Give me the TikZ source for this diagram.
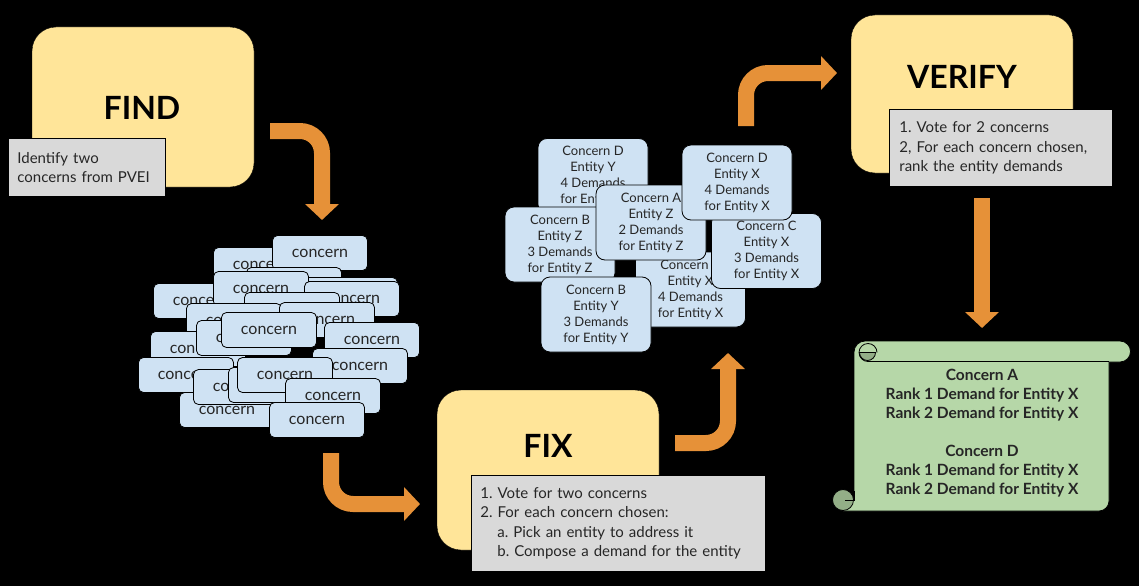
\documentclass[tikz,border=0pt]{standalone}
\usepackage{fontspec}
\setmainfont{Lato}
\usepackage{xcolor}
\usetikzlibrary{arrows.meta}
\definecolor{stagefill}{HTML}{FFE599}
\definecolor{notefill}{HTML}{D9D9D9}
\definecolor{chipfill}{HTML}{CFE2F3}
\definecolor{scrollfill}{HTML}{B6D7A8}
\definecolor{curlfill}{HTML}{93AE87}
\definecolor{flowcol}{HTML}{E69138}
\definecolor{ink}{HTML}{262626}
\frenchspacing

\begin{document}
\begin{tikzpicture}[x=1pt,y=-1pt,
  stage/.style={draw=black, fill=stagefill, rounded corners=24pt, minimum width=222pt, minimum height=160pt, inner sep=0pt},
  title/.style={font=\fontsize{32}{36}\selectfont\bfseries, text=black},
  note/.style={draw=black, line width=0.8pt, fill=notefill, align=left, text=ink, font=\fontsize{15}{19.5}\selectfont, inner xsep=9pt, inner ysep=0pt, anchor=north west},
  chip/.style={draw=black, line width=0.8pt, fill=chipfill, rounded corners=5pt, minimum width=95pt, minimum height=35pt, inner sep=0pt, text=ink, font=\fontsize{16}{18}\selectfont},
  card/.style={draw=black, line width=0.8pt, fill=chipfill, rounded corners=9pt, minimum width=110pt, minimum height=75pt, inner sep=0pt, align=center, text=ink, font=\fontsize{13}{16}\selectfont},
  flow/.style={draw=flowcol, line width=16pt, rounded corners=22pt, -{Triangle[width=33pt,length=16pt]}},
  scrollpart/.style={draw=black, line width=0.8pt, fill=scrollfill},
  curl/.style={draw=black, line width=0.8pt, fill=curlfill}]

\useasboundingbox (0,0) rectangle (1139,586);
\fill [black] (0,0) rectangle (1139,586);

% stages
\node [stage] (find) at (143,107) {};
\node [title] (findtitle) at (142,108) {FIND};
\node [note, minimum width=157pt, minimum height=58pt, text width=139pt] (findnote) at (8,138) {Identify two\\concerns from PVEI};

\node [stage] (fix) at (548,470) {};
\node [title] (fixtitle) at (548,446) {FIX};
\node [note, minimum width=294pt, minimum height=96pt, text width=276pt] (fixnote) at (471,475) {1. Vote for two concerns\\2. For each concern chosen:\\\hspace*{17pt}a. Pick an entity to address it\\\hspace*{17pt}b. Compose a demand for the entity};

\node [stage, minimum height=158pt] (verify) at (962,94) {};
\node [title] (verifytitle) at (962,77) {VERIFY};
\node [note, minimum width=223pt, minimum height=77pt, text width=203pt, inner xsep=10pt] (verifynote) at (889,109) {1. Vote for 2 concerns\\2, For each concern chosen,\\rank the entity demands};

% pile of concerns
\node [chip] (c1) at (261,265) {concern};
\node [chip] (c2) at (320,253) {concern};
\node [chip] (c3) at (294,285) {concern};
\node [chip] (c4) at (201,301) {concern};
\node [chip] (c5) at (350,295) {concern};
\node [chip] (c6) at (261,289) {concern};
\node [chip] (c7) at (352,299) {concern};
\node [chip] (c8) at (292,310) {concern};
\node [chip] (c9) at (234,321) {concern};
\node [chip] (c10) at (327,320) {concern};
\node [chip] (c11) at (198,349) {concern};
\node [chip] (c12) at (244,338) {concern};
\node [chip] (c13) at (269,330) {concern};
\node [chip] (c14) at (372,340) {concern};
\node [chip] (c15) at (360,366) {concern};
\node [chip] (c16) at (186,375) {concern};
\node [chip] (c17) at (227,410) {concern};
\node [chip] (c18) at (241,387) {concern};
\node [chip] (c19) at (276,385) {concern};
\node [chip] (c20) at (285,375) {concern};
\node [chip] (c21) at (333,396) {concern};
\node [chip] (c22) at (317,420) {concern};

% entity cards
\node [card] (e1) at (593,176) {Concern D\\Entity Y\\4 Demands\\for Entity Y};
\node [card] (e2) at (560,244.5) {Concern B\\Entity Z\\3 Demands\\for Entity Z};
\node [card] (e6) at (690.5,289.5) {Concern A\\Entity X\\4 Demands\\for Entity X};
\node [card] (e7) at (596,314.5) {Concern B\\Entity Y\\3 Demands\\for Entity Y};
\node [card] (e5) at (766.5,251) {Concern C\\Entity X\\3 Demands\\for Entity X};
\node [card] (e3) at (651,222.5) {Concern A\\Entity Z\\2 Demands\\for Entity Z};
\node [card] (e4) at (737,182.5) {Concern D\\Entity X\\4 Demands\\for Entity X};

% scroll
\draw [scrollpart] (854,352) arc [start angle=-180, end angle=-90, radius=11] -- (1120,341) arc [start angle=-90, end angle=90, radius=10.5] -- (1109,362) -- (1109,501) arc [start angle=0, end angle=90, radius=10] -- (843,511) -- (843,500) -- (854,500) -- cycle;
\draw [line width=0.8pt] (868,361.5) -- (1109,361.5);
\draw [curl] (859.5,352.5) arc [start angle=-180, end angle=-360, radius=8] -- cycle;
\draw [line width=0.8pt] (868,361.5) arc [start angle=-270, end angle=0, radius=9];
\draw [curl] (843,500) circle (10.5);
\draw [line width=0.8pt] (845,500) -- (854,500) -- (854,491);
\node [align=center, text=ink, font=\fontsize{15.5}{18.7}\selectfont\bfseries] (verdict) at (982,433) {Concern A\\Rank 1 Demand for Entity X\\Rank 2 Demand for Entity X\\[20pt]Concern D\\Rank 1 Demand for Entity X\\Rank 2 Demand for Entity X};

% arrows
\coordinate (findout) at (270,131);
\coordinate (pilein) at (322,220);
\coordinate (pileout) at (331,453);
\coordinate (fixin) at (420,504);
\coordinate (fixout) at (675,443);
\coordinate (cardsin) at (728,353);
\coordinate (cardsout) at (746,126);
\coordinate (verifyin) at (837,73);
\coordinate (verifyout) at (982,198);
\coordinate (verdictin) at (982,328);

\draw [flow] (findout) -| (pilein);
\draw [flow] (pileout) |- (fixin);
\draw [flow] (fixout) -| (cardsin);
\draw [flow] (cardsout) |- (verifyin);
\draw [flow] (verifyout) -- (verdictin);

\end{tikzpicture}
\end{document}
